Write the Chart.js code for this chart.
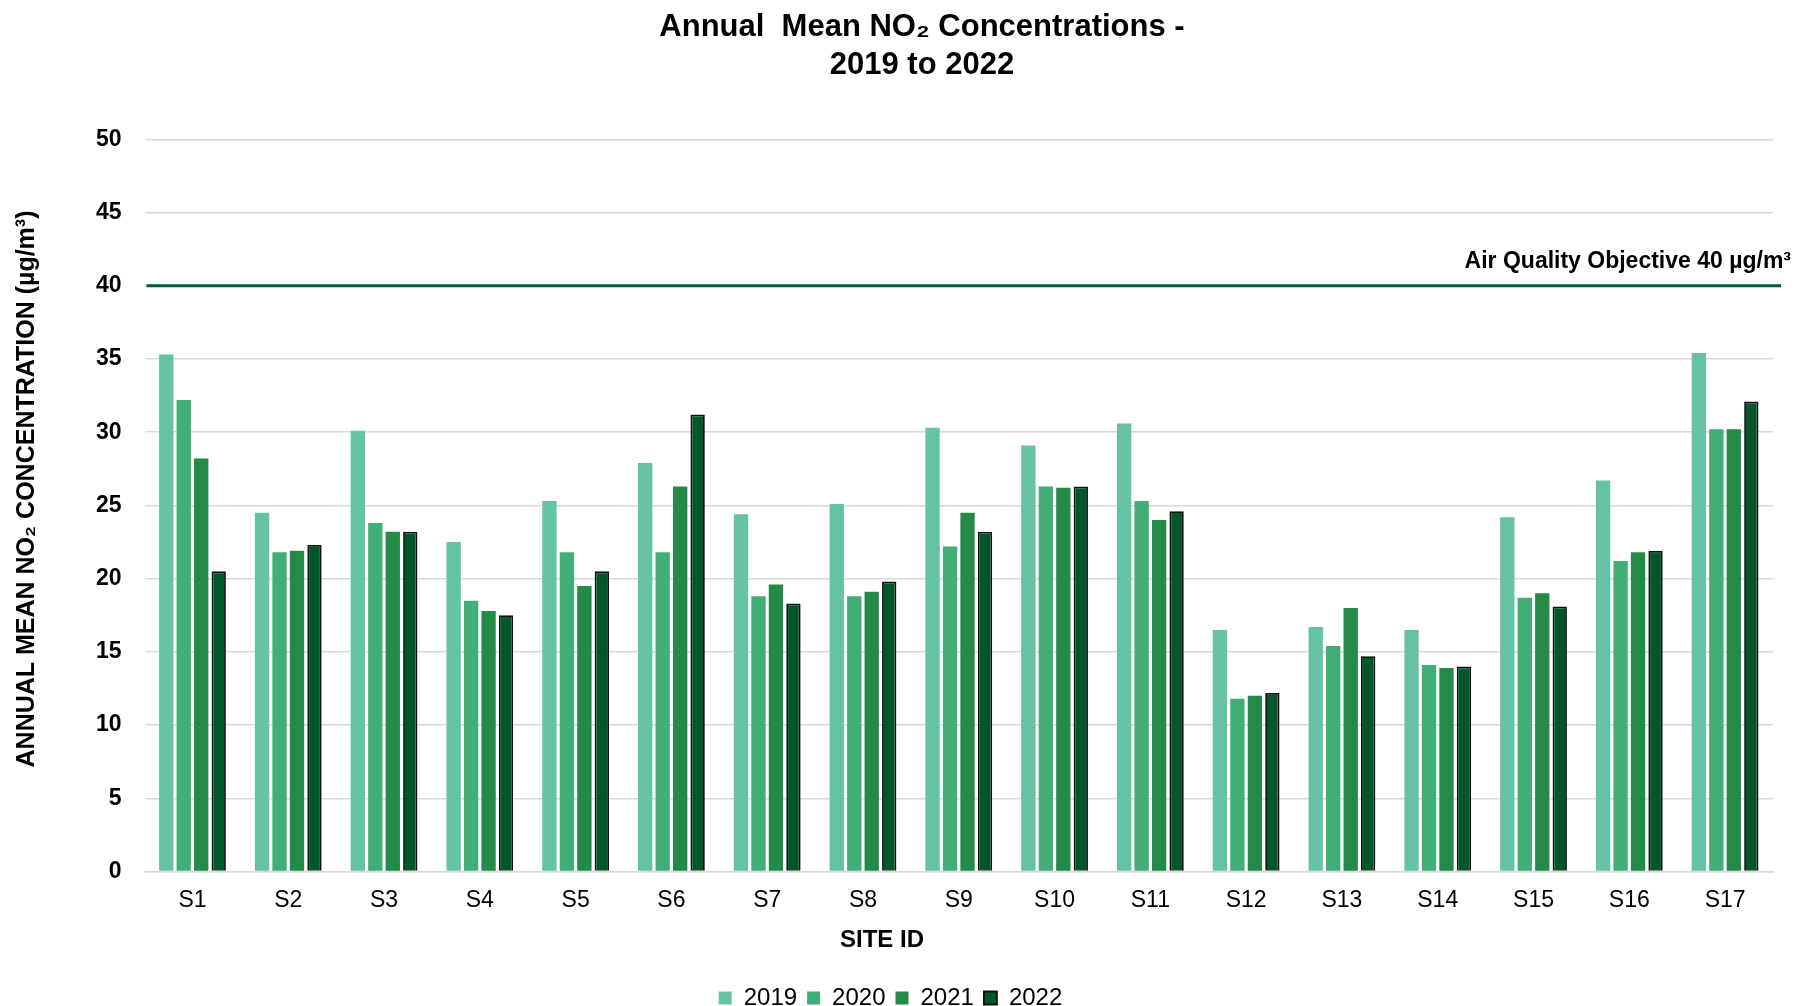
<!DOCTYPE html>
<html>
<head>
<meta charset="utf-8">
<script src="https://cdn.jsdelivr.net/npm/chart.js@4"></script>
<style>
  html, body { margin: 0; padding: 0; background: #fff; }
  #wrap { width: 1794px; height: 1006px; }
</style>
</head>
<body>
<div id="wrap"><canvas id="myChart"></canvas></div>
<script>
const sites = ['S1', 'S2', 'S3', 'S4', 'S5', 'S6', 'S7', 'S8', 'S9', 'S10', 'S11', 'S12', 'S13', 'S14', 'S15', 'S16', 'S17'];
const y2019 = [35.3, 24.5, 30.1, 22.5, 25.3, 27.9, 24.4, 25.1, 30.3, 29.1, 30.6, 16.5, 16.7, 16.5, 24.2, 26.7, 35.4];
const y2020 = [32.2, 21.8, 23.8, 18.5, 21.8, 21.8, 18.8, 18.8, 22.2, 26.3, 25.3, 11.8, 15.4, 14.1, 18.7, 21.2, 30.2];
const y2021 = [28.2, 21.9, 23.2, 17.8, 19.5, 26.3, 19.6, 19.1, 24.5, 26.2, 24.0, 12.0, 18.0, 13.9, 19.0, 21.8, 30.2];
const y2022 = [20.5, 22.3, 23.2, 17.5, 20.5, 31.2, 18.3, 19.8, 23.2, 26.3, 24.6, 12.2, 14.7, 14.0, 18.1, 21.9, 32.1];
const objective = 40;
const objectiveLabel = 'Air Quality Objective 40 µg/m³';
const titleLines = ['Annual  Mean NO\u2082 Concentrations -', '2019 to 2022'];
const xTitle = 'SITE ID';
const yTitle = 'ANNUAL MEAN NO\u2082 CONCENTRATION (\u00B5g/m\u00B3)';

const font = "'Liberation Sans', Arial, sans-serif";

// objective line, its label, and the titles drawn where Excel put them
const extrasPlugin = {
    id: 'extras',
    afterDatasetsDraw(chart) {
        const ctx = chart.ctx;
        const y = chart.scales.y.getPixelForValue(objective);
        const area = chart.chartArea;
        ctx.save();
        ctx.strokeStyle = '#005C2A';
        ctx.lineWidth = 3;
        ctx.beginPath();
        ctx.moveTo(area.left + 2, y);
        ctx.lineTo(area.right + 8, y);
        ctx.stroke();
        ctx.fillStyle = '#000';
        ctx.font = 'bold 23px ' + font;
        ctx.textAlign = 'right';
        ctx.textBaseline = 'middle';
        ctx.fillText(objectiveLabel, chart.width - 3, y - 24);

        ctx.textAlign = 'center';
        ctx.font = 'bold 31px ' + font;
        ctx.fillText(titleLines[0], 922, 27);
        ctx.fillText(titleLines[1], 922, 65);

        ctx.font = 'bold 24px ' + font;
        ctx.fillText(xTitle, 882, 940);

        ctx.translate(27, 489);
        ctx.rotate(-Math.PI / 2);
        ctx.font = 'bold 25px ' + font;
        ctx.fillText(yTitle, 0, 0);
        ctx.restore();
    }
};

document.addEventListener('DOMContentLoaded', function () {
    const ctx = document.getElementById('myChart').getContext('2d');
    const bar = (label, data, color, border) => ({
        label: label,
        data: data,
        backgroundColor: color,
        borderColor: border ? '#111' : color,
        borderWidth: border ? 1.8 : 0,
        categoryPercentage: 0.73,
        barPercentage: 0.82
    });
    new Chart(ctx, {
        type: 'bar',
        data: {
            labels: sites,
            datasets: [
                bar('2019', y2019, '#66C2A4', false),
                bar('2020', y2020, '#41AE76', false),
                bar('2021', y2021, '#238B45', false),
                bar('2022', y2022, '#00582A', true)
            ]
        },
        options: {
            responsive: true,
            maintainAspectRatio: false,
            animation: false,
            layout: { padding: { left: 8, right: 21, top: 0, bottom: -14 } },
            plugins: {
                title: {
                    display: true,
                    text: titleLines,
                    color: 'rgba(0,0,0,0)',
                    font: { family: font, size: 31, weight: 'bold', lineHeight: 1.23 },
                    padding: { top: 6, bottom: 57 }
                },
                legend: {
                    position: 'bottom',
                    labels: {
                        color: '#000',
                        font: { family: font, size: 24 },
                        boxWidth: 13,
                        boxHeight: 13,
                        padding: 10
                    }
                },
                tooltip: { enabled: false }
            },
            scales: {
                x: {
                    grid: { display: false },
                    border: { color: '#D9D9D9', width: 1.5 },
                    ticks: { color: '#000', font: { family: font, size: 23 }, padding: 7 },
                    title: {
                        display: true,
                        text: xTitle,
                        color: 'rgba(0,0,0,0)',
                        font: { family: font, size: 24, weight: 'bold' },
                        padding: { top: 12, bottom: 14 }
                    }
                },
                y: {
                    min: 0,
                    max: 50,
                    ticks: { stepSize: 5, color: '#000', font: { family: font, size: 23, weight: 'bold' }, padding: 23 },
                    grid: { color: '#D9D9D9', lineWidth: 1.5, drawTicks: false },
                    border: { display: false },
                    title: {
                        display: true,
                        text: yTitle,
                        color: 'rgba(0,0,0,0)',
                        font: { family: font, size: 25, weight: 'bold' },
                        padding: { top: 4, bottom: 31 }
                    }
                }
            }
        },
        plugins: [extrasPlugin]
    });
});
</script>
</body>
</html>
